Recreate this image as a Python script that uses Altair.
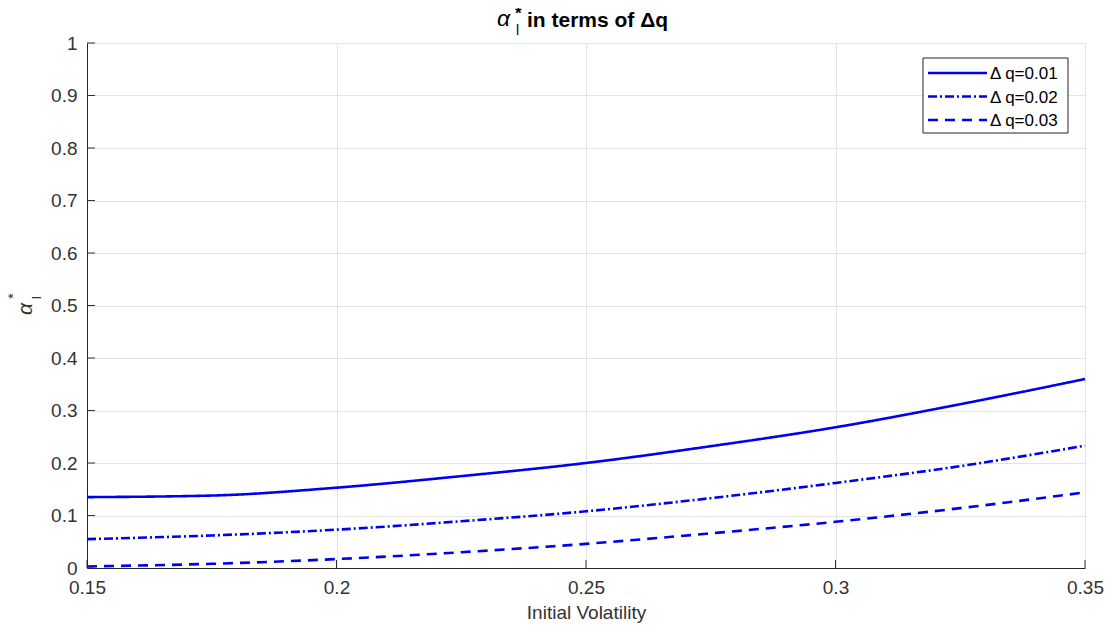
import altair as alt
import pandas as pd

vol = [0.15, 0.175, 0.2, 0.225, 0.25, 0.275, 0.3, 0.325, 0.35]
dq01 = [0.135, 0.138, 0.153, 0.175, 0.200, 0.232, 0.268, 0.312, 0.360]
dq02 = [0.055, 0.062, 0.073, 0.089, 0.108, 0.133, 0.162, 0.194, 0.233]
dq03 = [0.003, 0.008, 0.017, 0.030, 0.046, 0.066, 0.088, 0.114, 0.144]
series = ["Δ q=0.01", "Δ q=0.02", "Δ q=0.03"]
xticks = [0.15, 0.2, 0.25, 0.3, 0.35]
yticks = [0, 0.1, 0.2, 0.3, 0.4, 0.5, 0.6, 0.7, 0.8, 0.9, 1]

rows = []
for s, vals in zip(series, [dq01, dq02, dq03]):
    for x, y in zip(vol, vals):
        rows.append({"vol": x, "alpha": y, "series": s})
df = pd.DataFrame(rows)

FONT = "Liberation Sans"
AX = "#333333"
BLUE = "#0000f0"
W, H = 998, 525
DASHES = [[1, 0], [9, 3, 2, 3], [10, 7]]

xs = alt.Scale(domain=[0.15, 0.35], nice=False, zero=False)
ys = alt.Scale(domain=[0, 1], nice=False)

lines = alt.Chart(df).mark_line(strokeWidth=2.6, color=BLUE, interpolate="monotone").encode(
    x=alt.X("vol:Q", scale=xs, title="Initial Volatility",
            axis=alt.Axis(values=xticks, labelExpr="format(datum.value, '~g')", grid=True,
                          labelFlush=False)),
    y=alt.Y("alpha:Q", scale=ys, title=None,
            axis=alt.Axis(values=yticks, labelExpr="format(datum.value, '~g')", grid=True,
                          labelFlush=False)),
    strokeDash=alt.StrokeDash("series:N",
        scale=alt.Scale(domain=series, range=DASHES), legend=None),
)

# inward ticks
ytk = pd.DataFrame({"v": yticks})
xtk = pd.DataFrame({"v": xticks})
ytick_m = alt.Chart(ytk).mark_rule(color=AX, strokeWidth=1).encode(
    y=alt.Y("v:Q", scale=ys), x=alt.value(0), x2=alt.value(8))
xtick_m = alt.Chart(xtk).mark_rule(color=AX, strokeWidth=1).encode(
    x=alt.X("v:Q", scale=xs), y=alt.value(H), y2=alt.value(H - 8))


def txt(s, x, y, size, bold=False, italic=False, angle=0, align="left", color="#000000"):
    return alt.Chart(pd.DataFrame({"t": [s]})).mark_text(
        font=FONT, fontSize=size, fontWeight="bold" if bold else "normal",
        fontStyle="italic" if italic else "normal", color=color,
        angle=angle, align=align, baseline="alphabetic").encode(
        text="t:N", x=alt.value(x), y=alt.value(y))

# title pieces
title_parts = [
    txt("α", 410, -17, 23, italic=True),
    txt("*", 428, -24, 17, bold=True),
    txt("l", 429, -8, 14),
    txt("in terms of Δq", 440, -16, 21, bold=True),
]
# y-axis label pieces
ylab_parts = [
    txt("α", -55, 272, 21, italic=True, angle=270, color=AX),
    txt("l", -46, 256, 13, angle=270, color=AX),
    txt("*", -69, 256, 15, angle=270, color=AX),
]

# legend box
LX0, LX1, LY0, LY1 = 836, 981, 15, 90
legend_box = alt.Chart(pd.DataFrame({"a": [0]})).mark_rect(
    fill="white", stroke="#262626", strokeWidth=1).encode(
    x=alt.value(LX0), x2=alt.value(LX1), y=alt.value(LY0), y2=alt.value(LY1))
legend_parts = [legend_box]
row_y = [30, 53.5, 77]
for s, d, ry in zip(series, DASHES, row_y):
    legend_parts.append(
        alt.Chart(pd.DataFrame({"a": [0]})).mark_rule(
            color=BLUE, strokeWidth=2.6, strokeDash=d).encode(
            x=alt.value(841), x2=alt.value(900), y=alt.value(ry)))
    legend_parts.append(txt(s, 903, ry + 6, 17))

chart = alt.layer(lines, ytick_m, xtick_m, *legend_parts, *title_parts, *ylab_parts).properties(
    width=W, height=H,
    autosize=alt.AutoSizeParams(type="none"),
    padding={"left": 79, "top": 35, "right": 20, "bottom": 60},
).configure_view(stroke="#e3e3e3", strokeWidth=1).configure_axis(
    domainColor="#262626", domainWidth=1, tickSize=0, gridColor="#e3e3e3", gridWidth=1,
    labelFont=FONT, labelFontSize=19, labelColor=AX, titleFont=FONT, titleFontSize=19,
    titleColor=AX, titleFontWeight="normal", labelPadding=10,
).configure_axisX(titlePadding=6).configure_axisY(labelPadding=10)

chart.save("out.html", embed_options={"renderer": "svg", "actions": False})
